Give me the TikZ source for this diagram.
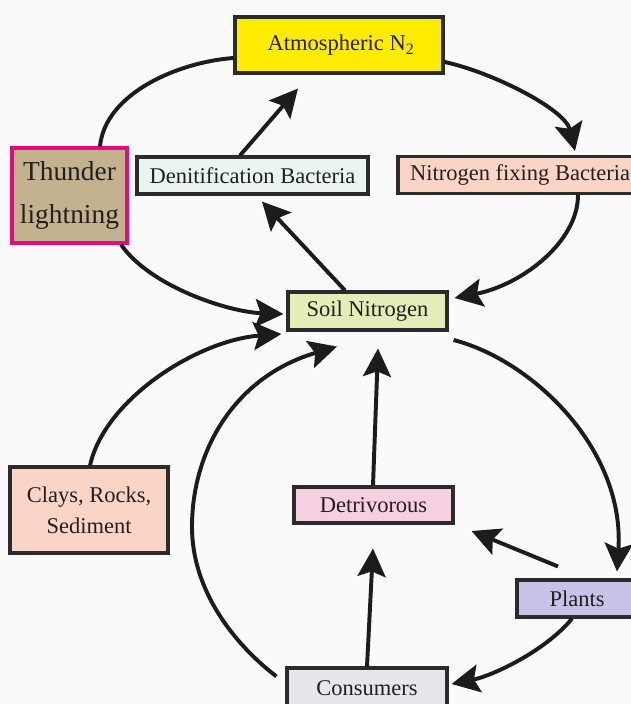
\documentclass[tikz,border=0pt]{standalone}
\usepackage{fontspec}
\setmainfont{Liberation Serif}
\usetikzlibrary{arrows.meta,calc}
\definecolor{ncbg}{HTML}{FAFAFA}
\definecolor{ncedge}{HTML}{2B2B2B}
\definecolor{ncline}{HTML}{1C1C1C}
\definecolor{nctext}{HTML}{231F20}
\definecolor{ncyellow}{HTML}{FFEC00}
\definecolor{ncmint}{HTML}{EAF5EF}
\definecolor{ncpeach}{HTML}{FAD5C6}
\definecolor{nctan}{HTML}{C4B28F}
\definecolor{ncmagenta}{HTML}{E6087F}
\definecolor{ncgreen}{HTML}{E4EDB8}
\definecolor{ncpink}{HTML}{F6CFE2}
\definecolor{nclavender}{HTML}{C6C2E8}
\definecolor{ncgrey}{HTML}{E5E7EB}

\begin{document}
\begin{tikzpicture}[x=0.025cm,y=-0.025cm,
    cyclebox/.style={draw=ncedge,line width=2.2pt,text=nctext,align=center,inner sep=0pt,
      font=\fontsize{16}{22}\selectfont},
    link/.style={line width=2.8pt,draw=ncline},
    flow/.style={link,-{Stealth[length=7mm,width=7mm,inset=1.3mm]}}
  ]
    \useasboundingbox (0,0) rectangle (631,704);
    \clip (0,0) rectangle (631,704);
    \fill[ncbg] (0,0) rectangle (631,704);
    \node[cyclebox,fill=ncyellow,minimum width=5.2cm,minimum height=1.4cm] (atm) at (339,45) {\hspace*{0.1cm}Atmospheric N\textsubscript{2}};
    \node[cyclebox,fill=ncmint,minimum width=5.775cm,minimum height=0.925cm] (denit) at (252.5,175.5) {Denitification Bacteria};
    \node[cyclebox,fill=ncpeach,minimum width=6.1cm,minimum height=0.925cm] (nfix) at (520,175) {Nitrogen fixing Bacteria};
    \node[cyclebox,fill=nctan,draw=ncmagenta,minimum width=2.875cm,minimum height=2.375cm,
      font=\fontsize{19.5}{31}\selectfont] (thunder) at (69.5,195.5) {Thunder\\lightning};
    \node[cyclebox,fill=ncgreen,minimum width=3.975cm,minimum height=0.95cm] (soil) at (367.5,311) {Soil Nitrogen};
    \node[cyclebox,fill=ncpeach,minimum width=3.95cm,minimum height=2.15cm] (clays) at (89,510) {Clays, Rocks,\\Sediment};
    \node[cyclebox,fill=ncpink,minimum width=3.975cm,minimum height=0.9cm] (detriv) at (373.5,505) {Detrivorous};
    \node[cyclebox,fill=nclavender,minimum width=3cm,minimum height=0.925cm] (plants) at (577,598.5) {Plants};
    \node[cyclebox,fill=ncgrey,minimum width=4cm,minimum height=1cm] (cons) at (367,688) {Consumers};
    \coordinate (bend) at (192,527);
    \draw[link] ($(atm.west)+(0,13)$) .. controls +(-55,4) and +(5,-53) .. ($(thunder.north)+(30.5,0)$);
    \draw[flow] ($(thunder.south)+(51.5,0)$) .. controls +(29,42) and +(-55,-2) .. ($(soil.west)+(-3,3)$);
    \draw[flow] ($(atm.east)+(0,17)$) .. controls +(47,10) and +(-10,-42) .. ($(nfix.north)+(55,-4)$);
    \draw[flow] ($(nfix.south)+(58,0)$) .. controls +(0,47) and +(67,-13) .. ($(soil.east)+(6,-13)$);
    \draw[flow] ($(denit.north)+(-12.5,0)$) -- ($(atm.south)+(-41,14)$);
    \draw[flow] ($(soil.north)+(-22.5,0)$) -- ($(denit.south)+(9.5,6)$);
    \draw[flow] ($(clays.north)+(1,0)$) .. controls +(15,-67) and +(-83,6) .. ($(soil.west)+(-5,23)$);
    \draw[flow] ($(cons.north west)+(-9,10)$) .. controls +(-43,-33) and +(0,63) .. (bend)
      .. controls +(0,-77) and +(-102,30) .. ($(soil.south)+(-30.5,15)$);
    \draw[flow] ($(detriv.north)+(-0.5,0)$) -- ($(soil.south)+(10.5,17)$);
    \draw[flow] ($(soil.east)+(5,29)$) .. controls +(78,20) and +(8,-123) .. ($(plants.north)+(40,-7)$);
    \draw[flow] ($(plants.north)+(-19,-12)$) -- ($(detriv.east)+(17,26)$);
    \draw[flow] ($(plants.south)+(-5,0)$) .. controls +(-27,33) and +(40,-8) .. ($(cons.east)+(3,-4)$);
    \draw[flow] (cons.north) -- ($(detriv.south)+(-0.5,24)$);
  \end{tikzpicture}
\end{document}
